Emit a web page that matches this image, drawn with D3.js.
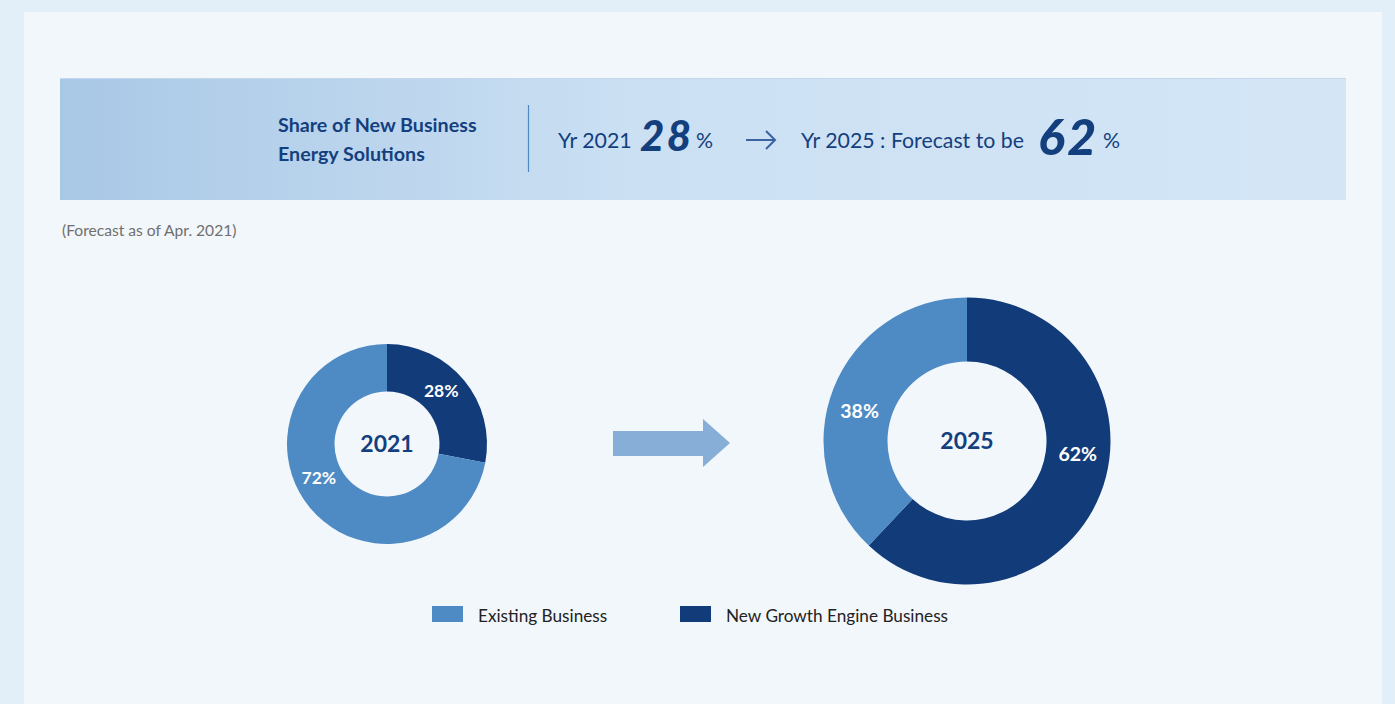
<!DOCTYPE html>
<html>
<head>
<meta charset="utf-8">
<script src="https://cdn.jsdelivr.net/npm/d3@7"></script>
<style>
  html, body { margin: 0; padding: 0; background: #e3eff8; }
  svg { display: block; }
  text { font-family: Lato, "Noto Sans", sans-serif; }
</style>
</head>
<body>
<svg id="chart" width="1395" height="704"></svg>
<script>
// ---- data ----
const years = ["2021", "2025"];
const seriesNames = ["New Growth Engine Business", "Existing Business"];
const newShare = [28, 62];
const existingShare = [72, 38];
const legendOrder = ["Existing Business", "New Growth Engine Business"];
const headline = "Share of New Business";
const headline2 = "Energy Solutions";
const note = "(Forecast as of Apr. 2021)";

// ---- style ----
const colors = d3.scaleOrdinal()
  .domain(seriesNames)
  .range(["#123b7a", "#4e8bc4"]);
const navy = "#143f7e";

const svg = d3.select("#chart");

// page panel
svg.append("rect").attr("x", 24).attr("y", 12).attr("width", 1358).attr("height", 704 - 12)
  .attr("fill", "#f2f7fc");

// banner gradient
const defs = svg.append("defs");
const grad = defs.append("linearGradient").attr("id", "bannerGrad")
  .attr("x1", "0%").attr("x2", "100%").attr("y1", "0%").attr("y2", "0%");
grad.append("stop").attr("offset", "0%").attr("stop-color", "#a9c8e6");
grad.append("stop").attr("offset", "45%").attr("stop-color", "#cbe0f3");
grad.append("stop").attr("offset", "100%").attr("stop-color", "#d4e6f6");

const banner = svg.append("g");
banner.append("rect").attr("x", 60).attr("y", 78).attr("width", 1286).attr("height", 122)
  .attr("fill", "url(#bannerGrad)");
banner.append("line").attr("x1", 60).attr("x2", 1346).attr("y1", 78.5).attr("y2", 78.5)
  .attr("stroke", "#c4d7ed").attr("stroke-width", 1);

banner.append("text").attr("x", 278).attr("y", 132)
  .attr("fill", navy).attr("font-size", 19.7).attr("font-weight", 700).text(headline);
banner.append("text").attr("x", 278).attr("y", 161)
  .attr("fill", navy).attr("font-size", 19.7).attr("font-weight", 700).text(headline2);

banner.append("line").attr("x1", 528.5).attr("x2", 528.5).attr("y1", 105).attr("y2", 172)
  .attr("stroke", "#4e8bc4").attr("stroke-width", 1.2);

const yrStyle = s => s.attr("fill", navy).attr("font-size", 21.3).attr("font-weight", 400);
banner.append("text").attr("x", 558).attr("y", 148).call(yrStyle).text("Yr " + years[0]);
banner.append("text").attr("x", 640).attr("y", 151)
  .attr("fill", navy).attr("font-size", 42).attr("font-weight", 900).attr("font-style", "italic")
  .attr("letter-spacing", 2.5)
  .text(newShare[0]);
banner.append("text").attr("x", 696).attr("y", 148).call(yrStyle).text("%");

// thin arrow
banner.append("path")
  .attr("d", "M746,140 H775 M766,131 L775,140 L766,149")
  .attr("fill", "none").attr("stroke", "#3b62a1").attr("stroke-width", 2);

banner.append("text").attr("x", 801).attr("y", 148).call(yrStyle)
  .text("Yr " + years[1] + " : Forecast to be");
banner.append("text").attr("x", 1038).attr("y", 155)
  .attr("fill", navy).attr("font-size", 50).attr("font-weight", 900).attr("font-style", "italic")
  .attr("letter-spacing", 2.5)
  .text(newShare[1]);
banner.append("text").attr("x", 1103).attr("y", 148).call(yrStyle).text("%");

svg.append("text").attr("x", 62).attr("y", 236)
  .attr("fill", "#6f6f6f").attr("font-size", 15.6).text(note);

// ---- donuts ----
const donuts = [
  { year: years[0], values: [newShare[0], existingShare[0]], cx: 387, cy: 444, outer: 100, inner: 52.5,
    labelSize: 17.5, labelShift: [-5, 13] },
  { year: years[1], values: [newShare[1], existingShare[1]], cx: 967, cy: 441, outer: 143.5, inner: 79.5,
    labelSize: 19.5, labelShift: [-15, -6] }
];

const pie = d3.pie().sort(null).value(d => d.value);

donuts.forEach(cfg => {
  const g = svg.append("g").attr("transform", `translate(${cfg.cx},${cfg.cy})`);
  const arcs = pie(seriesNames.map((name, i) => ({ name, value: cfg.values[i] })));
  const arc = d3.arc().innerRadius(cfg.inner).outerRadius(cfg.outer);
  g.selectAll("path.slice").data(arcs).join("path")
    .attr("class", "slice")
    .attr("d", arc)
    .attr("fill", d => colors(d.data.name));

  const midR = (cfg.inner + cfg.outer) / 2;
  g.selectAll("text.pct").data(arcs).join("text")
    .attr("class", "pct")
    .attr("transform", (d, i) => {
      const a = (d.startAngle + d.endAngle) / 2 + cfg.labelShift[i] * Math.PI / 180;
      return `translate(${midR * Math.sin(a)},${-midR * Math.cos(a)})`;
    })
    .attr("text-anchor", "middle").attr("dy", "0.36em")
    .attr("fill", "#ffffff").attr("font-size", cfg.labelSize).attr("font-weight", 700)
    .text(d => d.data.value + "%");

  g.append("text").attr("text-anchor", "middle").attr("dy", "0.36em")
    .attr("fill", navy).attr("font-size", 23).attr("font-weight", 700)
    .text(cfg.year);
});

// block arrow between the donuts
svg.append("path")
  .attr("d", "M613,431 H703 V419 L730,443 L703,467 V456 H613 Z")
  .attr("fill", "#86aed6");

// ---- legend ----
const legend = svg.append("g");
const legendX = [432, 680];
legendOrder.forEach((name, i) => {
  legend.append("rect").attr("x", legendX[i]).attr("y", 606).attr("width", 31).attr("height", 16)
    .attr("fill", colors(name));
  legend.append("text").attr("x", legendX[i] + 46).attr("y", 622)
    .attr("fill", "#222222").attr("font-size", 17.2).text(name);
});
</script>
</body>
</html>
